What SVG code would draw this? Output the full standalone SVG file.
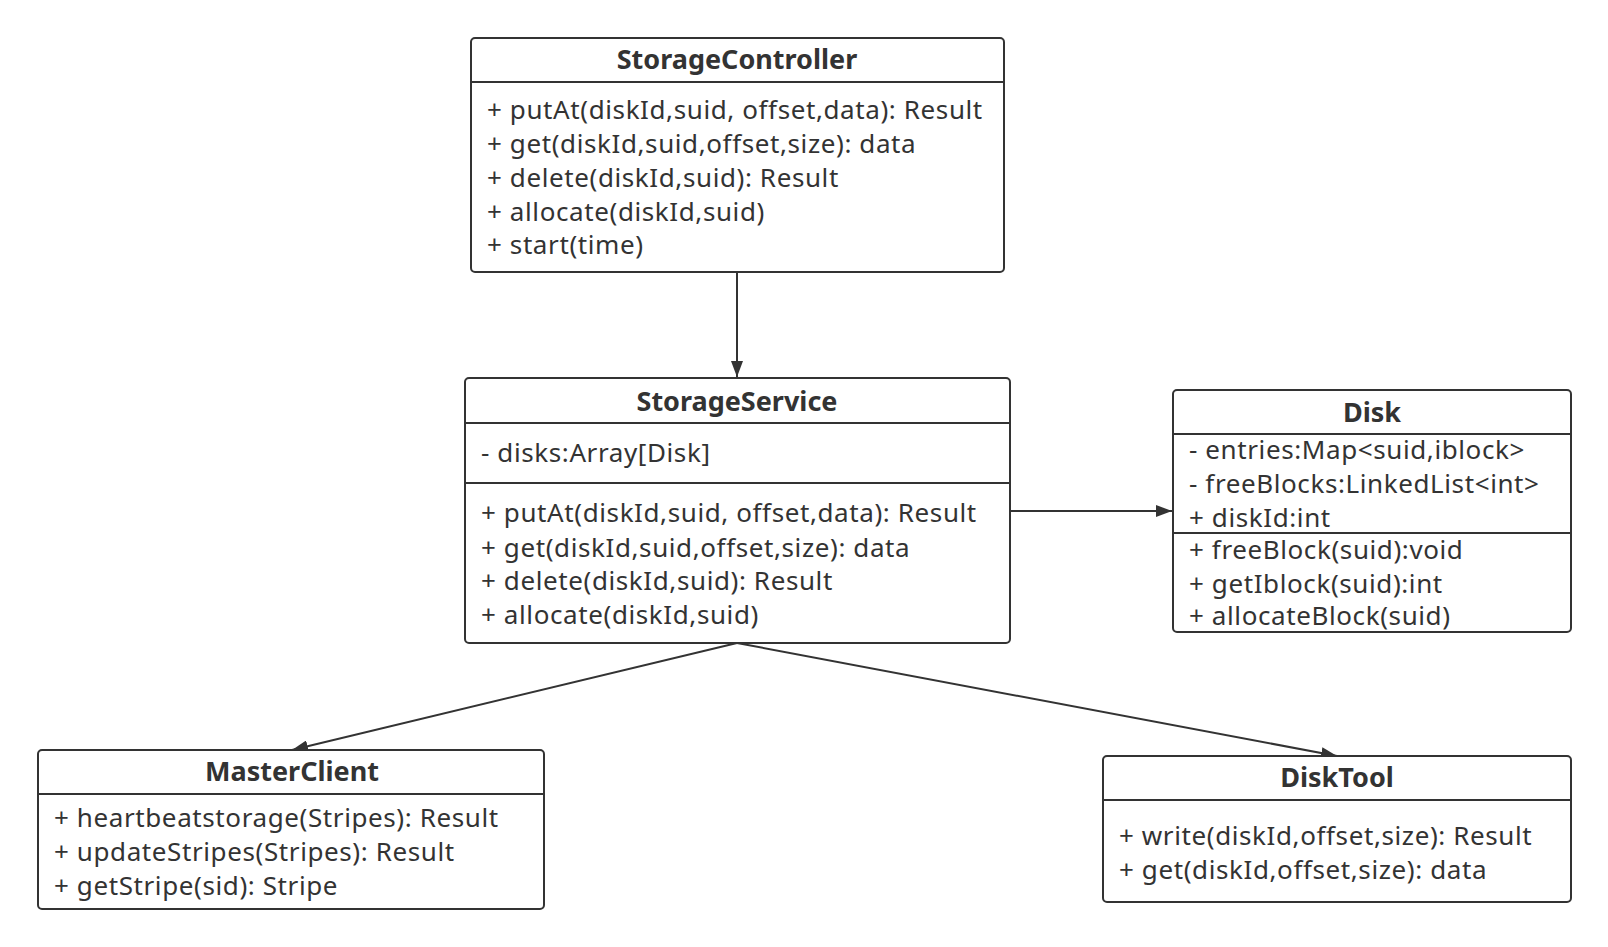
<svg xmlns="http://www.w3.org/2000/svg" width="1608" height="947" viewBox="0 0 1608 947">
<style>
.box{fill:#fff;stroke:#333;stroke-width:2}
.div{stroke:#333;stroke-width:2}
.t{font-family:"Noto Sans","Open Sans",sans-serif;font-size:26px;letter-spacing:0.6px;fill:#333}
.h{font-family:"Noto Sans","Open Sans",sans-serif;font-size:27px;font-weight:bold;fill:#333;text-anchor:middle}
.c{stroke:#333;stroke-width:2;fill:none;marker-end:url(#arr)}
</style>
<defs>
<marker id="arr" viewBox="0 0 16 12" refX="16" refY="6" markerWidth="16" markerHeight="12" markerUnits="userSpaceOnUse" orient="auto">
<path d="M0,0 L16,6 L0,12 Z" fill="#333"/>
</marker>
</defs>
<rect width="1608" height="947" fill="#fff"/>
<g id="connectors">
<line class="c" x1="737" y1="272" x2="737" y2="377"/>
<line class="c" x1="1010" y1="511" x2="1172" y2="511"/>
<line class="c" x1="737" y1="643" x2="292" y2="750"/>
<line class="c" x1="737" y1="643" x2="1337" y2="756"/>
</g>
<g id="StorageController">
<rect class="box" x="471" y="38" width="533" height="234" rx="4"/>
<line class="div" x1="471" y1="82" x2="1004" y2="82"/>
<text class="h" x="737" y="69">StorageController</text>
<text class="t" x="487" y="119">+ putAt(diskId,suid, offset,data): Result</text>
<text class="t" x="487" y="153">+ get(diskId,suid,offset,size): data</text>
<text class="t" x="487" y="187">+ delete(diskId,suid): Result</text>
<text class="t" x="487" y="221">+ allocate(diskId,suid)</text>
<text class="t" x="487" y="254">+ start(time)</text>
</g>
<g id="StorageService">
<rect class="box" x="465" y="378" width="545" height="265" rx="4"/>
<line class="div" x1="465" y1="423" x2="1010" y2="423"/>
<line class="div" x1="465" y1="483" x2="1010" y2="483"/>
<text class="h" x="737" y="411">StorageService</text>
<text class="t" x="481" y="462">- disks:Array[Disk]</text>
<text class="t" x="481" y="522">+ putAt(diskId,suid, offset,data): Result</text>
<text class="t" x="481" y="557">+ get(diskId,suid,offset,size): data</text>
<text class="t" x="481" y="590">+ delete(diskId,suid): Result</text>
<text class="t" x="481" y="624">+ allocate(diskId,suid)</text>
</g>
<g id="Disk">
<rect class="box" x="1173" y="390" width="398" height="242" rx="4"/>
<line class="div" x1="1173" y1="434" x2="1571" y2="434"/>
<line class="div" x1="1173" y1="533" x2="1571" y2="533"/>
<text class="h" x="1372" y="422">Disk</text>
<text class="t" x="1189" y="459">- entries:Map&lt;suid,iblock&gt;</text>
<text class="t" x="1189" y="493">- freeBlocks:LinkedList&lt;int&gt;</text>
<text class="t" x="1189" y="527">+ diskId:int</text>
<text class="t" x="1189" y="559">+ freeBlock(suid):void</text>
<text class="t" x="1189" y="593">+ getIblock(suid):int</text>
<text class="t" x="1189" y="625">+ allocateBlock(suid)</text>
</g>
<g id="MasterClient">
<rect class="box" x="38" y="750" width="506" height="159" rx="4"/>
<line class="div" x1="38" y1="794" x2="544" y2="794"/>
<text class="h" x="292" y="781">MasterClient</text>
<text class="t" x="54" y="827">+ heartbeatstorage(Stripes): Result</text>
<text class="t" x="54" y="861">+ updateStripes(Stripes): Result</text>
<text class="t" x="54" y="895">+ getStripe(sid): Stripe</text>
</g>
<g id="DiskTool">
<rect class="box" x="1103" y="756" width="468" height="146" rx="4"/>
<line class="div" x1="1103" y1="800" x2="1571" y2="800"/>
<text class="h" x="1337" y="787">DiskTool</text>
<text class="t" x="1119" y="845">+ write(diskId,offset,size): Result</text>
<text class="t" x="1119" y="879">+ get(diskId,offset,size): data</text>
</g>
</svg>
